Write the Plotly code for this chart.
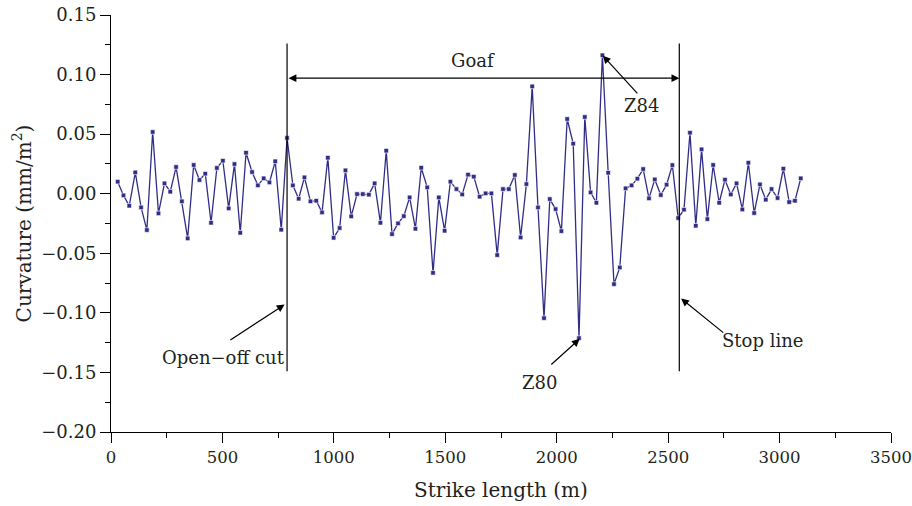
import plotly.graph_objects as go

strike_length = [30, 56, 82, 109, 135, 161, 187, 213, 240, 266,
                 292, 318, 344, 371, 397, 423, 449, 475, 502, 528,
                 554, 580, 606, 633, 659, 685, 711, 737, 764, 790,
                 816, 842, 868, 895, 921, 947, 973, 999, 1026, 1052,
                 1078, 1104, 1130, 1157, 1183, 1209, 1235, 1261, 1288, 1314,
                 1340, 1366, 1392, 1419, 1445, 1471, 1497, 1523, 1550, 1576,
                 1602, 1628, 1654, 1681, 1707, 1733, 1759, 1785, 1812, 1838,
                 1864, 1890, 1916, 1943, 1969, 1995, 2021, 2047, 2074, 2100,
                 2126, 2152, 2178, 2205, 2231, 2257, 2283, 2309, 2336, 2362,
                 2388, 2414, 2440, 2467, 2493, 2519, 2545, 2571, 2598, 2624,
                 2650, 2676, 2702, 2729, 2755, 2781, 2807, 2833, 2860, 2886,
                 2912, 2938, 2964, 2991, 3017, 3043, 3069, 3095]

curvature = [0.0101, -0.0014, -0.0101, 0.0179, -0.0115, -0.0305, 0.0518, -0.0165, 0.0087, 0.0017,
             0.0224, -0.0064, -0.0375, 0.0241, 0.0115, 0.0168, -0.0244, 0.0216, 0.0277, -0.0123,
             0.0249, -0.0328, 0.0344, 0.0182, 0.0070, 0.0129, 0.0095, 0.0272, -0.0302, 0.0468,
             0.0070, -0.0042, 0.0137, -0.0064, -0.0059, -0.0157, 0.0302, -0.0370, -0.0288, 0.0196,
             -0.0190, -0.0003, -0.0003, -0.0008, 0.0087, -0.0244, 0.0361, -0.0339, -0.0249, -0.0188,
             -0.0031, -0.0294, 0.0218, 0.0053, -0.0664, -0.0031, -0.0311, 0.0101, 0.0039, -0.0006,
             0.0160, 0.0143, -0.0025, 0.0003, 0.0003, -0.0515, 0.0039, 0.0039, 0.0157, -0.0367,
             0.0081, 0.0901, -0.0115, -0.1044, -0.0045, -0.0129, -0.0314, 0.0627, 0.0420, -0.1212,
             0.0644, 0.0011, -0.0076, 0.1162, 0.0176, -0.0759, -0.0619, 0.0045, 0.0070, 0.0126,
             0.0207, -0.0039, 0.0120, -0.0011, 0.0076, 0.0240, -0.0204, -0.0134, 0.0512, -0.0269,
             0.0372, -0.0213, 0.0241, -0.0076, 0.0118, -0.0006, 0.0087, -0.0132, 0.0260, -0.0162,
             0.0078, -0.0050, 0.0039, -0.0036, 0.0210, -0.0070, -0.0059, 0.0129]

x_ticks = [0, 500, 1000, 1500, 2000, 2500, 3000, 3500]
x_minor_ticks = [250, 750, 1250, 1750, 2250, 2750, 3250]

open_off_x = 790
stop_x = 2550
goaf_y = 0.097
line_top = 0.126
line_bottom = -0.149

FONT = "DejaVu Serif"
INK = "#231f20"
LINE_COLOR = "#302d86"

fig = go.Figure()
fig.add_trace(go.Scatter(
    x=strike_length, y=curvature, mode="lines+markers",
    line=dict(color=LINE_COLOR, width=1.3),
    marker=dict(symbol="square", size=4.5, color=LINE_COLOR,
                line=dict(color="white", width=0.6)),
    showlegend=False, hoverinfo="x+y"))

for xv in (open_off_x, stop_x):
    fig.add_shape(type="line", x0=xv, x1=xv, y0=line_bottom, y1=line_top,
                  xref="x", yref="y", line=dict(color="black", width=1.2))

arrow = dict(showarrow=True, arrowhead=2, arrowsize=1.3, arrowwidth=1.2,
             arrowcolor="black", axref="x", ayref="y", xref="x", yref="y", text="")

annotations = [
    dict(x=stop_x, y=goaf_y, ax=open_off_x, ay=goaf_y, arrowside="end+start", **arrow),
    dict(x=779, y=-0.093, ax=529, ay=-0.1235, **arrow),
    dict(x=2558, y=-0.088, ax=2754, ay=-0.1176, **arrow),
    dict(x=2103, y=-0.1218, ax=1969, ay=-0.1445, **arrow),
    dict(x=2207, y=0.1159, ax=2368, ay=0.0829, **arrow),
]
texts = [
    ("Goaf", 1623, 0.1117),
    ("Open\u2212off cut", 506, -0.1378),
    ("Stop line", 2923, -0.1235),
    ("Z80", 1924, -0.1588),
    ("Z84", 2381, 0.0739),
]
for t, xv, yv in texts:
    annotations.append(dict(text=t, x=xv, y=yv, xref="x", yref="y", showarrow=False,
                            font=dict(family=FONT, size=18, color=INK)))

fig.update_layout(
    width=912, height=506,
    margin=dict(l=111, r=21, t=15, b=74, autoexpand=False),
    paper_bgcolor="white", plot_bgcolor="white",
    font=dict(family=FONT, size=18, color=INK),
    annotations=annotations,
    xaxis=dict(range=[0, 3500], tickvals=x_ticks, automargin=False, ticklabeloverflow="allow",
               ticks="outside", ticklen=10, tickwidth=1, tickcolor="black",
               minor=dict(tickvals=x_minor_ticks, ticks="outside", ticklen=5, tickcolor="black"),
               showline=True, linecolor="black", linewidth=1, showgrid=False, zeroline=False,
               title=dict(text="Strike length (m)", font=dict(size=20), standoff=17),
               tickfont=dict(size=16.5)),
    yaxis=dict(range=[-0.20, 0.15], dtick=0.05, tick0=0, tickformat=".2f", automargin=False,
               ticklabeloverflow="allow",
               ticks="outside", ticklen=10, tickwidth=1, tickcolor="black",
               minor=dict(dtick=0.025, ticks="outside", ticklen=5, tickcolor="black"),
               showline=True, linecolor="black", linewidth=1, showgrid=False, zeroline=False,
               title=dict(text="Curvature (mm/m<sup>2</sup>)", font=dict(size=20), standoff=4),
               tickfont=dict(size=18)),
)

fig.write_html("out.html", config={"displayModeBar": False},
               post_script="document.body.style.margin='0px';")
